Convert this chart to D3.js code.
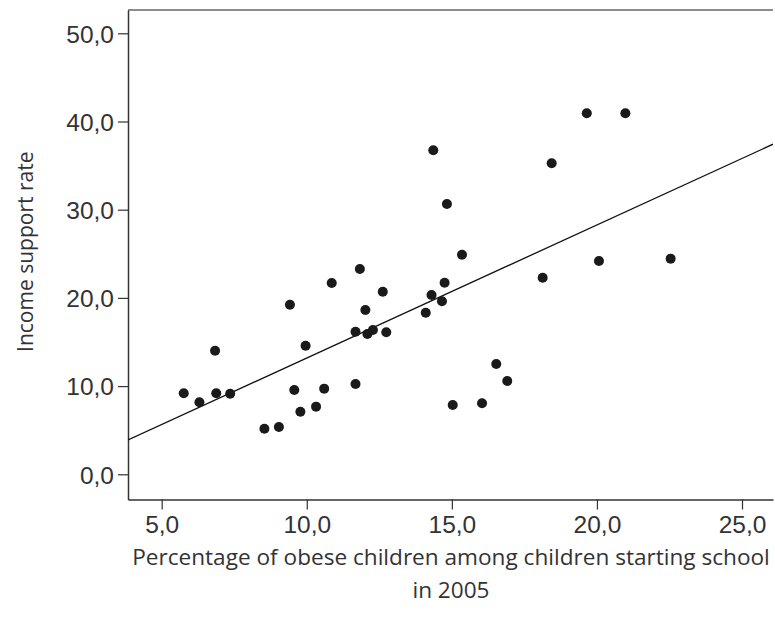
<!DOCTYPE html>
<html>
<head>
<meta charset="utf-8">
<script src="https://cdn.jsdelivr.net/npm/d3@7"></script>
<style>
  body { margin: 0; background: #fff; }
  svg { display: block; font-family: "Open Sans", "Noto Sans", sans-serif; }
  .tick text { fill: #333; }
</style>
</head>
<body>
<svg class="chart"></svg>
<script>
// obesity % (x) and income support rate (y)
const obese = [
  5.76, 6.30, 6.84, 6.88, 7.36, 8.54, 9.04, 9.42, 9.57, 9.78,
  9.96, 10.32, 10.60, 10.86, 11.68, 11.68, 11.83, 12.02, 12.09, 12.28,
  12.62, 12.74, 14.10, 14.30, 14.36, 14.66, 14.75, 14.83, 15.03, 15.35,
  16.04, 16.53, 16.91, 18.13, 18.44, 19.65, 20.98, 20.07, 22.54
]
const support = [
  9.18, 8.16, 14.01, 9.18, 9.14, 5.17, 5.36, 19.23, 9.56, 7.10,
  14.58, 7.67, 9.71, 21.69, 10.24, 16.17, 23.28, 18.63, 15.91, 16.36,
  20.70, 16.10, 18.32, 20.33, 36.73, 19.61, 21.72, 30.65, 7.86, 24.90,
  8.05, 12.51, 10.58, 22.29, 35.26, 40.93, 40.93, 24.18, 24.45
]
const xTicks = [5, 10, 15, 20, 25]
const yTicks = [0, 10, 20, 30, 40, 50]
// fit line as drawn (intercept, slope)
const fitIntercept = -1.90
const fitSlope = 1.5085

const width = 775
const height = 621
const m = { top: 10, right: 2, bottom: 121.5, left: 128 }

const svg = d3.select('.chart')
    .attr('width', width)
    .attr('height', height)

const x = d3.scaleLinear()
    .domain([3.839, 26.068])
    .range([m.left, width - m.right])

const y = d3.scaleLinear()
    .domain([-2.857, 52.64])
    .range([height - m.bottom, m.top])

const fmt = d => d.toFixed(1).replace('.', ',')

svg.append('clipPath')
    .attr('id', 'plot-clip')
  .append('rect')
    .attr('x', m.left)
    .attr('y', m.top)
    .attr('width', width - m.left - m.right)
    .attr('height', height - m.top - m.bottom)

// top frame line
svg.append('line')
    .attr('x1', m.left).attr('x2', width - m.right)
    .attr('y1', m.top).attr('y2', m.top)
    .attr('stroke', '#666')
    .attr('stroke-width', 1.5)

const xAxis = svg.append('g')
    .attr('transform', `translate(0,${height - m.bottom})`)
    .call(d3.axisBottom(x).tickValues(xTicks).tickFormat(fmt).tickSize(10).tickSizeOuter(0))

const yAxis = svg.append('g')
    .attr('transform', `translate(${m.left},0)`)
    .call(d3.axisLeft(y).tickValues(yTicks).tickFormat(fmt).tickSize(10).tickSizeOuter(0))

for (const g of [xAxis, yAxis]) {
  g.select('.domain').attr('stroke', '#333').attr('stroke-width', 1.5)
  g.selectAll('.tick line').attr('stroke', '#333').attr('stroke-width', 1.2)
  g.selectAll('.tick text').attr('font-size', 24.5).attr('font-family', null)
}
xAxis.selectAll('.tick text').attr('dy', null).attr('y', 33)
yAxis.selectAll('.tick text').attr('x', -14).attr('dy', '0.36em')

// regression line
svg.append('line')
    .attr('clip-path', 'url(#plot-clip)')
    .attr('x1', x(3.839)).attr('y1', y(fitIntercept + fitSlope * 3.839))
    .attr('x2', x(26.068)).attr('y2', y(fitIntercept + fitSlope * 26.068))
    .attr('stroke', '#111')
    .attr('stroke-width', 1.3)

svg.selectAll('circle.pt')
    .data(obese.map((v, i) => [v, support[i]]))
    .enter()
    .append('circle')
    .attr('class', 'pt')
    .attr('cx', d => x(d[0]))
    .attr('cy', d => y(d[1]))
    .attr('r', 5)
    .attr('fill', '#1a1a1a')

// axis titles
svg.append('text')
    .attr('transform', `translate(33,${(m.top + height - m.bottom) / 2 - 3}) rotate(-90)`)
    .attr('text-anchor', 'middle')
    .attr('font-size', 21)
    .attr('fill', '#333')
    .text('Income support rate')

const xt = svg.append('text')
    .attr('text-anchor', 'middle')
    .attr('font-size', 22.6)
    .attr('fill', '#333')
xt.append('tspan')
    .attr('x', 451)
    .attr('y', 565)
    .text('Percentage of obese children among children starting school')
xt.append('tspan')
    .attr('x', 451)
    .attr('y', 598)
    .text('in 2005')
</script>
</body>
</html>
